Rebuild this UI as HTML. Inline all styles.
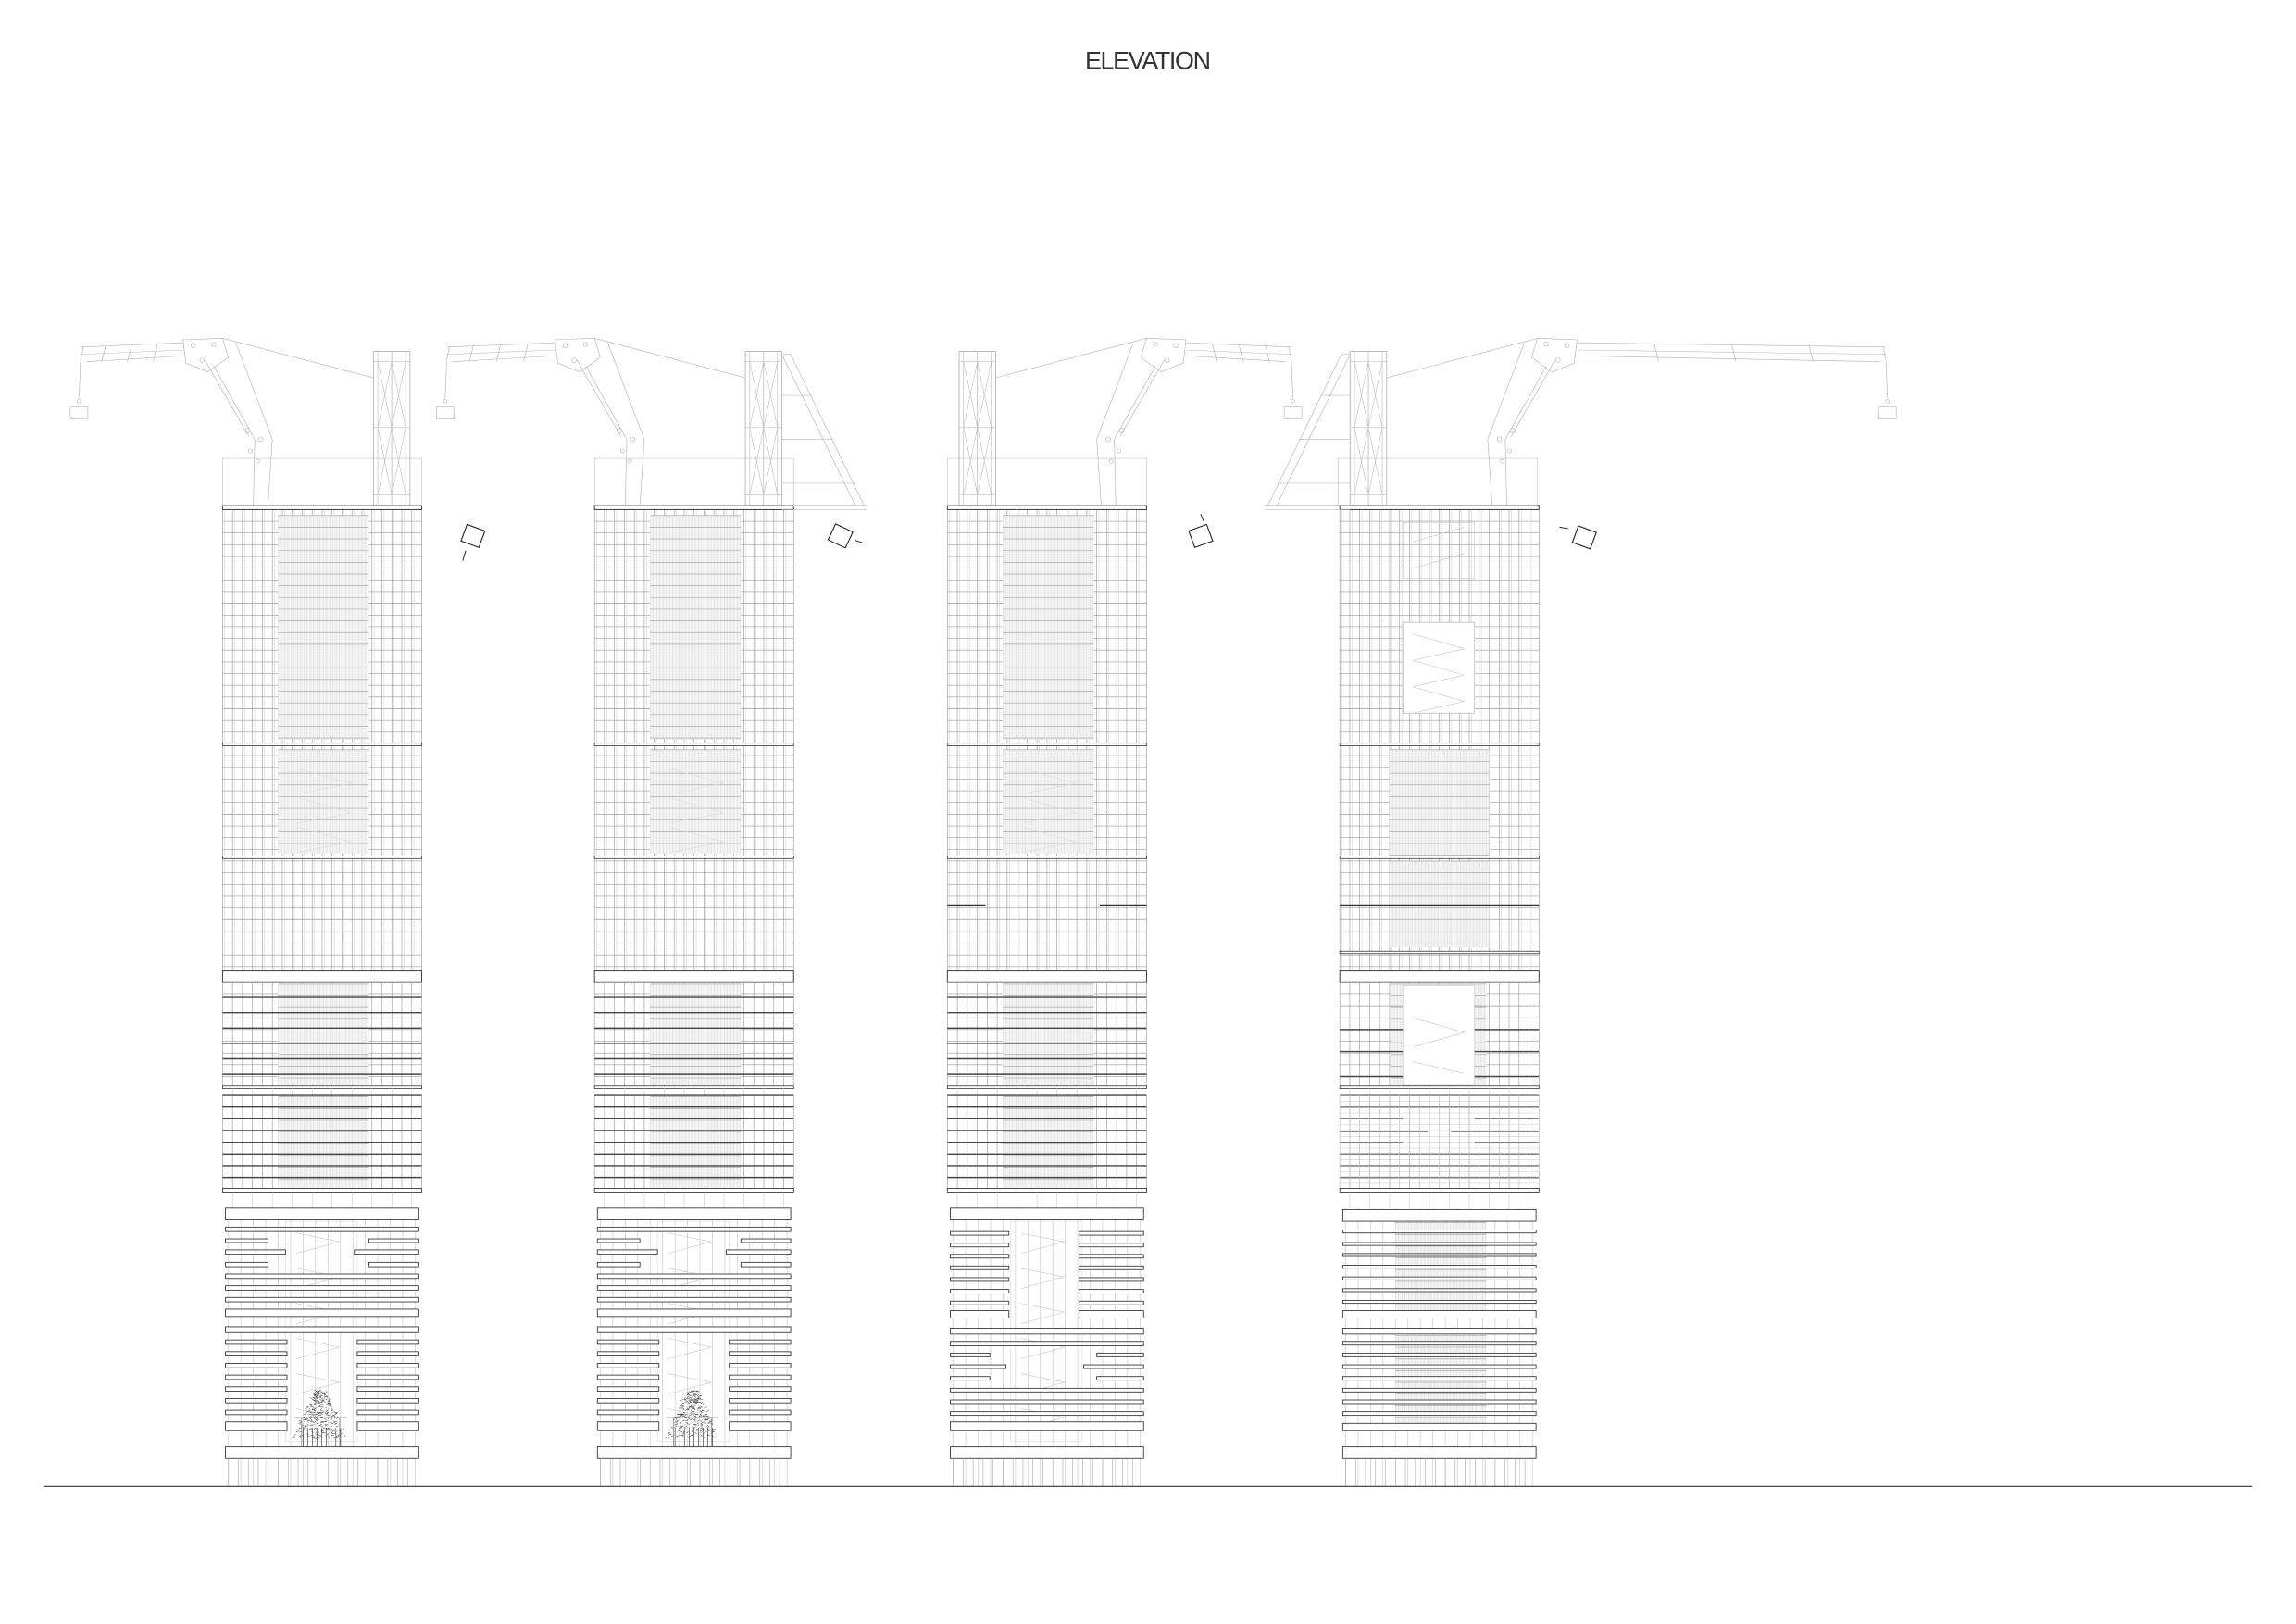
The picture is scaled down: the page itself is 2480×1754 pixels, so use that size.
<!DOCTYPE html>
<html><head><meta charset="utf-8"><style>
html,body{margin:0;padding:0;background:#fff;}
svg{display:block;}
</style></head><body>
<svg id="s" xmlns="http://www.w3.org/2000/svg" width="2480" height="1754" viewBox="0 0 1568 1109" preserveAspectRatio="none">
<rect x="0" y="0" width="1568" height="1109" fill="#fff"/>
<text x="784" y="47" text-anchor="middle" font-family="Liberation Sans Narrow, Liberation Sans, sans-serif" font-size="17" fill="#333" textLength="86" lengthAdjust="spacing">ELEVATION</text>
<g id="g"></g>
</svg>
<script>
var out='';
function L(a,b,c,d,col,w){out+='<line x1="'+a+'" y1="'+b+'" x2="'+c+'" y2="'+d+'" stroke="'+col+'" stroke-width="'+w+'"/>';}
function R(x,y,w,h,col,sw,f){out+='<rect x="'+x+'" y="'+y+'" width="'+w+'" height="'+h+'" fill="'+(f||'#fff')+'" stroke="'+col+'" stroke-width="'+sw+'"/>';}
var DK='#333',GR='#9a9a9a',LG='#c8c8c8';
function grid(x0,x1,y0,y1,dx,dy,col,w){
  for(var x=x0;x<=x1+0.01;x+=dx)L(x,y0,x,y1,col,w);
  if(dy)for(var y=y0;y<=y1+0.01;y+=dy)L(x0,y,x1,y,col,w);
}
function dense(x0,x1,y0,y1){
  R(x0,y0,x1-x0,y1-y0,'none',0,'#f3f3f3');
  for(var x=x0;x<=x1;x+=2.2)L(x,y0,x,y1,'#d8d8d8',0.3);
  for(var y=y0;y<=y1;y+=8)L(x0,y,x1,y,'#aaa',0.45);
}
function crane(tr,boom,brace){
  out+='<g transform="'+tr+'" fill="none" stroke="#bbb" stroke-width="0.45">';
  R(0,313,136,32,'#c8c8c8',0.45,'none');
  L(21,345,22,300,'#bbb',0.45);L(31,345,34,300,'#bbb',0.45);
  L(34,300,9,234,'#bbb',0.45);L(22,300,-6,250,'#bbb',0.45);
  L(18,298,-12,246,'#bbb',0.45);
  out+='<circle cx="17" cy="294" r="1.6"/><circle cx="26" cy="300" r="1.6"/><circle cx="19" cy="308" r="1.3"/><circle cx="24" cy="315" r="1.3"/>';
  out+='<polygon points="-27,232 0,231 4,244 -10,254 -25,248"/>';
  out+='<circle cx="-20" cy="236" r="1.5"/><circle cx="-6" cy="235" r="1.5"/><circle cx="-14" cy="246" r="1.5"/>';
  L(-27,234,boom,237,'#bbb',0.45);L(-27,243,boom+4,247,'#bbb',0.45);L(-27,239,boom,242,'#bbb',0.35);
  for(var i=1;i<4;i++){var bx=-27+(boom+27)*i/4;L(bx,235,bx-3,247,'#bbb',0.45);}
  L(boom+2,237,boom,246,'#bbb',0.45);
  L(boom,247,boom-1,272,'#bbb',0.45);
  out+='<circle cx="'+(boom-1)+'" cy="274" r="1.2"/>';
  R(boom-7,278,12,8,'#bbb',0.45,'none');
  L(0,231,103,258,'#bbb',0.45);
  R(103,240,25,105,'#aaa',0.5,'none');
  L(106,240,106,345,'#bbb',0.4);L(125,240,125,345,'#bbb',0.4);L(115.5,240,115.5,345,'#aaa',0.4);
  L(103,247,128,247,'#bbb',0.4);L(103,292,128,292,'#bbb',0.4);L(103,338,128,338,'#bbb',0.4);
  L(106,247,115.5,292,'#bbb',0.35);L(115.5,247,106,292,'#bbb',0.35);
  L(115.5,247,125,292,'#bbb',0.35);L(125,247,115.5,292,'#bbb',0.35);
  L(106,292,115.5,338,'#bbb',0.35);L(115.5,292,106,338,'#bbb',0.35);
  L(115.5,292,125,338,'#bbb',0.35);L(125,292,115.5,338,'#bbb',0.35);
  if(brace){
    L(128,242,178,345,'#bbb',0.45);L(134,242,184,345,'#bbb',0.45);L(128,242,134,242,'#bbb',0.45);
    L(128,270,148,270,'#bbb',0.4);L(128,300,163,300,'#bbb',0.4);L(128,330,178,330,'#bbb',0.4);
    L(128,345,186,345,'#bbb',0.45);L(128,348,186,348,'#bbb',0.4);
  }
  out+='</g>';
}
function compass(cx,cy,rot,ax,ay,bx,by){
  out+='<g transform="translate('+cx+','+cy+') rotate('+rot+')"><rect x="-6.5" y="-6" width="13" height="12" fill="none" stroke="#222" stroke-width="0.7"/></g>';
  L(ax,ay,bx,by,'#222',0.6);
}
function slabs(x,spec){
  spec.forEach(function(s){
    var y=s[0],h=s[1],t=s[2];
    if(t=='f')R(x+2,y,132,h,DK,0.55);
    else{var a=s[3],b=s[4];R(x+2,y,a-2,h,DK,0.55);R(x+b,y,134-b,h,DK,0.55);}
  });
}
function tower(x,kind){
  grid(x,x+136,348,663,6.8,8,GR,0.4);
  grid(x+1.5,x+134.5,348,663,6.8,0,LG,0.3);
  if(kind!=4){dense(x+38,x+100,352,505);dense(x+38,x+100,512,583);}
  else{dense(x+34,x+102,512,584);dense(x+34,x+102,588,647);
    R(x+43,425,49,62,'#bbb',0.5,'#fff');
    for(var i=0;i<3;i++){L(x+50,433+i*18,x+85,443+i*18,LG,0.4);L(x+85,443+i*18,x+50,451+i*18,LG,0.4);}
    R(x+43,357,49,38,LG,0.4,'none');L(x+50,370,x+85,360,LG,0.4);L(x+50,388,x+85,378,LG,0.4);
  }
  if(kind!=4){
    for(var i=0;i<3;i++){L(x+52,525+i*20,x+88,535+i*20,'#ddd',0.4);L(x+88,535+i*20,x+52,542+i*20,'#ddd',0.4);}
  }
  R(x,345,136,3,DK,0.6);
  R(x,507.5,136,1.8,DK,0.5);
  R(x,584.5,136,1.8,DK,0.5);
  if(kind==3){L(x,618,x+26,618,DK,0.8);L(x+104,618,x+136,618,DK,0.8);}
  if(kind==4){L(x,618,x+136,618,DK,0.8);R(x,649.5,136,1.6,DK,0.5);}
  R(x,663,136,8,DK,0.6);
  grid(x,x+136,671,742,6.8,8,GR,0.4);
  if(kind!=4)dense(x+38,x+100,672,741);else dense(x+35,x+100,672,741);
  if(kind!=4){for(var y=681;y<742;y+=10.5)L(x,y,x+136,y,'#444',0.9);}
  else{R(x+43,673,49,68,LG,0.4,'#fff');
    [687,703,718,735].forEach(function(y){L(x,y,x+43,y,'#444',0.9);L(x+92,y,x+136,y,'#444',0.9);});
    L(x+50,695,x+85,705,LG,0.4);L(x+85,705,x+50,715,LG,0.4);L(x+50,725,x+85,733,LG,0.4);}
  R(x,741.5,136,1.8,DK,0.5);
  grid(x+6.8,x+129.2,743,748,13.6,0,LG,0.35);
  grid(x,x+136,748,812,6.8,0,GR,0.4);
  if(kind!=4){dense(x+38,x+100,749,811);for(var y=748;y<=812.5;y+=8)L(x,y,x+136,y,'#444',0.9);}
  else{[748,756,788,796,804].forEach(function(y){L(x,y,x+136,y,'#444',0.9);});
    L(x,764,x+43,764,'#444',0.9);L(x+92,764,x+136,764,'#444',0.9);
    L(x,772.6,x+60,772.6,'#444',0.9);L(x+76,772.6,x+136,772.6,'#444',0.9);
    L(x,780,x+43,780,'#444',0.9);L(x+92,780,x+136,780,'#444',0.9);
    grid(x,x+136,748,812,6.8,4,LG,0.3);}
  R(x,811.5,136,2.5,DK,0.55);
  grid(x+6.8,x+129.2,814,825,13.6,0,LG,0.35);
  grid(x+4,x+132,825,1015,8.5,0,LG,0.4);
  if(kind!=4){R(x+43,834,49,150,'#ddd',0.4,'none');
    for(var i=0;i<6;i++){var yy=842+i*24;L(x+50,yy,x+80,yy+6,'#ccc',0.4);L(x+80,yy+6,x+50,yy+14,'#ccc',0.4);}}
  var spec;
  if(kind==1||kind==2){
    spec=[[825,8,'f'],[838,3,'f'],[846,2.5,'p',31,100],[853.5,3,'p',43,90],[862,3,'p',31,100],[870,3,'f'],[878,3,'f'],[886,3,'f'],[894,5,'f'],[906,4,'f'],
      [915,3,'p',44,92],[923,3,'p',44,92],[931,3,'p',44,92],[939,3,'p',44,92],[947,3,'p',44,92],[955,3,'p',44,92],[963,3,'p',44,92],[971,6,'p',44,92],[988,8,'f']];
  }else if(kind==3){
    spec=[[825,8,'f'],[841,2.5,'p',42,90],[849,2.5,'p',42,90],[856.6,2.5,'p',42,90],[864.5,2.5,'p',42,90],[872.5,2.5,'p',42,90],[880.5,2.5,'p',42,90],[888.5,2.5,'p',42,90],[895,5,'p',42,90],
      [907,4,'f'],[916,3,'f'],[924,2.5,'p',29,102],[932,2.5,'p',40,93],[940,2.5,'p',29,102],[948,2.5,'f'],[956,2.5,'f'],[964,2.5,'f'],[971,6,'f'],[988,8,'f']];
  }else{
    spec=[[826,8,'f'],[840,2,'f'],[848.5,2,'f'],[856,2,'f'],[864,2,'f'],[872,2,'f'],[880,2,'f'],[888,2,'f'],[895,5,'f'],
      [907,4,'f'],[916,2.5,'f'],[924,2.5,'f'],[932,2.5,'f'],[940,2.5,'f'],[948,2.5,'f'],[956,2.5,'f'],[964,2.5,'f'],[972,5,'f'],[988,8,'f']];
    dense(x+38,x+100,835,900);dense(x+38,x+100,912,972);
  }
  slabs(x,spec);
  grid(x+4,x+132,996,1015,6.8,0,'#aaa',0.4);
  if(kind==1||kind==2)tree(x+49,x+85,950,988);
}
var seed=7;function rnd(){seed=(seed*9301+49297)%233280;return seed/233280;}
function tree(x0,x1,y0,y1){
  var cx=(x0+x1)/2;
  for(var i=0;i<320;i++){
    var t=rnd();var y=y0+t*(y1-y0-6);var half=(x1-x0)/2*(0.2+0.8*t);
    var xx=cx+(rnd()*2-1)*half;var dx=(rnd()*2-1)*2.2,dy=(rnd()*2-1)*1.2;
    L(xx.toFixed(1),y.toFixed(1),(xx+dx).toFixed(1),(y+dy).toFixed(1),'#222',0.3);
  }
  for(var i=0;i<9;i++){var xx=x0+6+i*3.2;L(xx,975,xx,988,'#333',0.4);}
  L(x0+5,968,x0+5,988,'#888',0.5);L(x1-5,968,x1-5,988,'#888',0.5);L(x0,968,x1,968,'#888',0.4);
}
tower(152,1);tower(406,2);tower(647,3);tower(915,4);
crane('translate(152,0)',-97,false);
crane('translate(406,0)',-101,true);
crane('translate(783,0) scale(-1,1)',-99,false);
crane('translate(1050,0) scale(-1,1)',-238,true);
compass(323,366,20,318,376,316,383);
compass(574,366,25,584,369,590,371);
compass(820,366,-20,822,356,820,351);
compass(1082,367,20,1071,361,1065,360);
L(30,1015,1538,1015,'#333',0.7);
document.getElementById('g').innerHTML=out;
</script>
</body></html>
